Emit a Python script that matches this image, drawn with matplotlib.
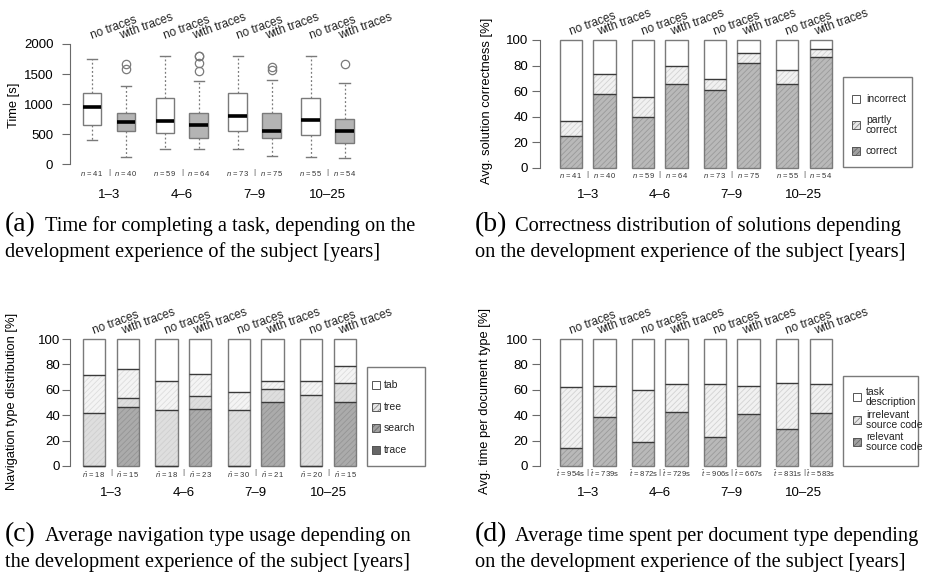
import matplotlib
matplotlib.use('Agg')
import matplotlib.pyplot as plt
from matplotlib.patches import Rectangle
import numpy as np

plt.rcParams['font.family'] = ['Liberation Sans', 'DejaVu Sans']
plt.rcParams['hatch.linewidth'] = 0.6
plt.rcParams['mathtext.fontset'] = 'custom'
plt.rcParams['mathtext.it'] = 'Liberation Sans:italic'
plt.rcParams['mathtext.rm'] = 'Liberation Sans'

# ---------------- data ----------------
groups = ['1–3', '4–6', '7–9', '10–25']
conditions = ['no traces', 'with traces']

# (a) time for completing a task [s]  (order: 1-3 no, 1-3 with, 4-6 no, ...)
time_whislo = [399, 116, 249, 249, 249, 139, 127, 110]
time_q1 = [654, 560, 515, 443, 554, 443, 482, 359]
time_med = [953, 704, 726, 654, 803, 560, 742, 559]
time_q3 = [1191, 859, 1108, 859, 1191, 859, 1107, 748]
time_whishi = [1745, 1307, 1795, 1385, 1795, 1402, 1795, 1346]
time_fliers = [[], [1585, 1665], [], [1556, 1689, 1795, 1800], [],
               [1570, 1610], [], [1662]]
n_subjects = [41, 40, 59, 64, 73, 75, 55, 54]

# (b) correctness [%]
correctness_labels = ['correct', 'partly\ncorrect', 'incorrect']
correct = [24.8, 57.7, 39.4, 65.8, 60.6, 81.7, 65.5, 86.9]
partly = [12.0, 15.4, 16.2, 14.1, 9.1, 7.9, 11.0, 5.8]
incorrect = [63.2, 26.9, 44.4, 20.1, 30.3, 10.4, 23.5, 7.3]

# (c) navigation type [%]
navigation_labels = ['trace', 'search', 'tree', 'tab']
nav_trace = [0, 46.2, 0, 44.6, 0, 50.7, 0, 50.7]
nav_search = [42.0, 7.1, 44.1, 10.8, 43.8, 9.7, 55.9, 14.9]
nav_tree = [29.7, 22.8, 23.1, 17.0, 14.7, 6.5, 10.8, 12.9]
nav_tab = [28.3, 23.9, 32.8, 27.6, 41.5, 33.1, 33.3, 21.5]
n_nav = [18, 15, 18, 23, 30, 21, 20, 15]

# (d) time per document type [%]
document_labels = ['relevant\nsource code', 'irrelevant\nsource code', 'task\ndescription']
doc_relevant = [13.9, 38.3, 19.2, 42.3, 22.6, 40.7, 28.9, 41.5]
doc_irrelevant = [48.0, 24.7, 40.6, 22.0, 41.7, 22.6, 36.7, 22.8]
doc_task = [38.1, 37.0, 40.2, 35.7, 35.7, 36.7, 34.4, 35.7]
t_mean = ['954s', '739s', '872s', '729s', '906s', '667s', '831s', '583s']

captions = [
    ('(a)', 'Time for completing a task, depending on the',
     'development experience of the subject [years]'),
    ('(b)', 'Correctness distribution of solutions depending',
     'on the development experience of the subject [years]'),
    ('(c)', 'Average navigation type usage depending on',
     'the development experience of the subject [years]'),
    ('(d)', 'Average time spent per document type depending',
     'on the development experience of the subject [years]'),
]

# ---------------- layout ----------------
W, H, DPI = 931, 574, 100
fig = plt.figure(figsize=(W / DPI, H / DPI), dpi=DPI)
SPINE = '#6a6a6a'
EDGE = '#7a7a7a'
pos = np.array([g * 2.15 + c for g in range(len(groups)) for c in range(len(conditions))])


def fx(px):
    return px / W


def fy(py):
    return 1 - py / H


class Panel:
    def __init__(self, left, right, top, bottom, x0, unit, y0, yscale):
        self.ax = fig.add_axes([fx(left), fy(bottom), (right - left) / W, (bottom - top) / H])
        self.x0, self.unit, self.y0, self.yscale = x0, unit, y0, yscale
        self.ax.set_xlim((left - x0) / unit, (right - x0) / unit)
        self.ax.set_ylim((y0 - bottom) / yscale, (y0 - top) / yscale)

    def yd(self, py):
        return (self.y0 - py) / self.yscale


def style_axis(P, ticks, pad):
    ax = P.ax
    for s in ['top', 'right', 'bottom']:
        ax.spines[s].set_visible(False)
    ax.spines['left'].set_bounds(ticks[0], ticks[-1])
    ax.spines['left'].set_color(SPINE)
    ax.set_yticks(ticks)
    ax.set_yticklabels([str(t) for t in ticks])
    ax.tick_params(axis='y', length=5.5, width=0.8, color=SPINE, labelsize=9.5, pad=pad)
    ax.set_xticks([])
    ax.patch.set_alpha(0)


def top_labels(P, top_py):
    for i, p in enumerate(pos):
        c = i % 2
        xoff = 0 if c == 0 else -5 / P.unit
        P.ax.text(p + xoff, P.yd(top_py - 5), conditions[c], rotation=20,
                  rotation_mode='anchor', ha='left', va='baseline', fontsize=8.5,
                  clip_on=False, color='#222')


def bottom_labels(P, labels, n_py, sep_py, g_py):
    for i, p in enumerate(pos):
        P.ax.text(p, P.yd(n_py), labels[i], ha='center', va='center', fontsize=5.5,
                  color='#333', clip_on=False)
    for g in range(len(groups)):
        mid = (pos[2 * g] + pos[2 * g + 1]) / 2
        P.ax.text(mid, P.yd(sep_py), '|', ha='center', va='center', fontsize=6,
                  color='#444', clip_on=False)
        P.ax.text(mid, P.yd(g_py), groups[g], ha='center', va='center', fontsize=9.5,
                  clip_on=False)


def stacked(P, segments, fills, hatches, hatchcols, width):
    ax = P.ax
    bottom = np.zeros(len(pos))
    tops = []
    for vals, fc, hatch, hc in zip(segments, fills, hatches, hatchcols):
        vals = np.array(vals, dtype=float)
        ax.bar(pos, vals, width, bottom=bottom, color=fc, edgecolor=hc, hatch=hatch,
               linewidth=0, zorder=2)
        bottom = bottom + vals
        tops.append(bottom.copy())
    ax.bar(pos, bottom, width, fill=False, edgecolor=EDGE, linewidth=1.0, zorder=3)
    for t in tops[:-1]:
        ax.hlines(t, pos - width / 2, pos + width / 2, colors='#3a3a3a', linewidth=1.0, zorder=4)


def legend_box(box, entries, sqx, tx, fontsize=7.5):
    x0, y0, x1, y1 = box
    fig.patches.append(Rectangle((fx(x0), fy(y1)), (x1 - x0) / W, (y1 - y0) / H,
                                 transform=fig.transFigure, fill=False,
                                 edgecolor=EDGE, linewidth=1.0))
    for label, fc, hatch, hc, ypx in entries:
        s = 8
        fig.patches.append(Rectangle((fx(sqx), fy(ypx + s / 2)), s / W, s / H,
                                     transform=fig.transFigure, facecolor=fc,
                                     edgecolor=hc, hatch=hatch, linewidth=0))
        fig.patches.append(Rectangle((fx(sqx), fy(ypx + s / 2)), s / W, s / H,
                                     transform=fig.transFigure, fill=False,
                                     edgecolor='#555', linewidth=0.7))
        fig.text(fx(tx), fy(ypx), label, ha='left', va='center', fontsize=fontsize,
                 linespacing=0.9, color='#222')


def ylabel(xpx, ypx, text):
    fig.text(fx(xpx), fy(ypx), text, rotation=90, ha='center', va='center', fontsize=9.3)


# ---------------- (a) ----------------
A = Panel(70, 362, 36, 172, 92, 33.9, 164.3, 120.3 / 2000)
stats = []
for i in range(len(pos)):
    stats.append(dict(whislo=time_whislo[i], q1=time_q1[i], med=time_med[i],
                      q3=time_q3[i], whishi=time_whishi[i], fliers=time_fliers[i]))
bp = A.ax.bxp(stats, positions=pos, widths=0.55, patch_artist=True, showfliers=True,
              capwidths=0.3,
              boxprops=dict(edgecolor=EDGE, linewidth=1.0),
              medianprops=dict(color='black', linewidth=2.6, solid_capstyle='butt'),
              whiskerprops=dict(color=EDGE, linewidth=0.9, linestyle=(0, (1.5, 1.8))),
              capprops=dict(color=EDGE, linewidth=1.0),
              flierprops=dict(marker='o', markerfacecolor='none', markeredgecolor=EDGE,
                              markersize=6, markeredgewidth=0.9))
for i, b in enumerate(bp['boxes']):
    b.set_facecolor('white' if i % 2 == 0 else '#b4b4b4')
style_axis(A, [0, 500, 1000, 1500, 2000], 6.5)
top_labels(A, 44)
bottom_labels(A, [f'$n$ = {n}' for n in n_subjects], 173, 173, 195)
ylabel(14, 105, 'Time [s]')

# ---------------- (b) ----------------
B = Panel(540, 840, 30, 170, 571, 33.5, 167.7, 1.277)
stacked(B, [correct, partly, incorrect], ['#b9b9b9', '#f1f1f1', 'white'],
        ['//////', '//////', None], ['#9a9a9a', '#d2d2d2', 'white'], 0.66)
style_axis(B, [0, 20, 40, 60, 80, 100], 3)
top_labels(B, 40)
bottom_labels(B, [f'$n$ = {n}' for n in n_subjects], 176, 174, 195)
ylabel(487, 101, 'Avg. solution correctness [%]')
legend_box((843, 77, 912, 167), [
    (correctness_labels[2], 'white', None, 'white', 99),
    (correctness_labels[1], '#e6e6e6', '//////', '#8a8a8a', 125),
    (correctness_labels[0], '#a0a0a0', '//////', '#6a6a6a', 151),
], 852, 866)

# ---------------- (c) ----------------
C = Panel(70, 362, 330, 470, 94, 33.7, 466, 1.27)
stacked(C, [nav_trace, nav_search, nav_tree, nav_tab],
        ['#ababab', '#dedede', '#f4f4f4', 'white'],
        ['//////', '//////', '//////', None],
        ['#959595', '#cfcfcf', '#dddddd', 'white'], 0.66)
style_axis(C, [0, 20, 40, 60, 80, 100], 1.5)
top_labels(C, 339)
bottom_labels(C, [f'$\\bar{{n}}$ = {n}' for n in n_nav], 475, 472, 493)
ylabel(12, 401, 'Navigation type distribution [%]')
legend_box((367, 367, 425, 466), [
    (navigation_labels[3], 'white', None, 'white', 385),
    (navigation_labels[2], '#e6e6e6', '//////', '#8a8a8a', 407),
    (navigation_labels[1], '#a0a0a0', '//////', '#6a6a6a', 428),
    (navigation_labels[0], '#666666', None, '#666666', 450),
], 372, 384)

# ---------------- (d) ----------------
D = Panel(540, 840, 330, 470, 571, 33.5, 466, 1.27)
stacked(D, [doc_relevant, doc_irrelevant, doc_task], ['#b9b9b9', '#f1f1f1', 'white'],
        ['//////', '//////', None], ['#9a9a9a', '#d2d2d2', 'white'], 0.66)
style_axis(D, [0, 20, 40, 60, 80, 100], 3)
top_labels(D, 339)
bottom_labels(D, [f'$\\bar{{t}}$ = {t}' for t in t_mean], 474, 472, 493)
ylabel(485, 401, 'Avg. time per document type [%]')
legend_box((843, 376, 918, 466), [
    (document_labels[2], 'white', None, 'white', 397),
    (document_labels[1], '#e6e6e6', '//////', '#8a8a8a', 420),
    (document_labels[0], '#a0a0a0', '//////', '#6a6a6a', 442),
], 853, 866)

# ---------------- captions ----------------
cap_pos = [(5, 231), (475, 231), (5, 541), (475, 541)]
for (tag, l1, l2), (cx, cy) in zip(captions, cap_pos):
    fig.text(fx(cx), fy(cy), tag, fontsize=20, family='Liberation Serif', va='baseline')
    fig.text(fx(cx + 40), fy(cy), l1, fontsize=14.7, family='Liberation Serif', va='baseline')
    fig.text(fx(cx), fy(cy + 26), l2, fontsize=14.7, family='Liberation Serif', va='baseline')

fig.savefig('out.png', dpi=DPI)
